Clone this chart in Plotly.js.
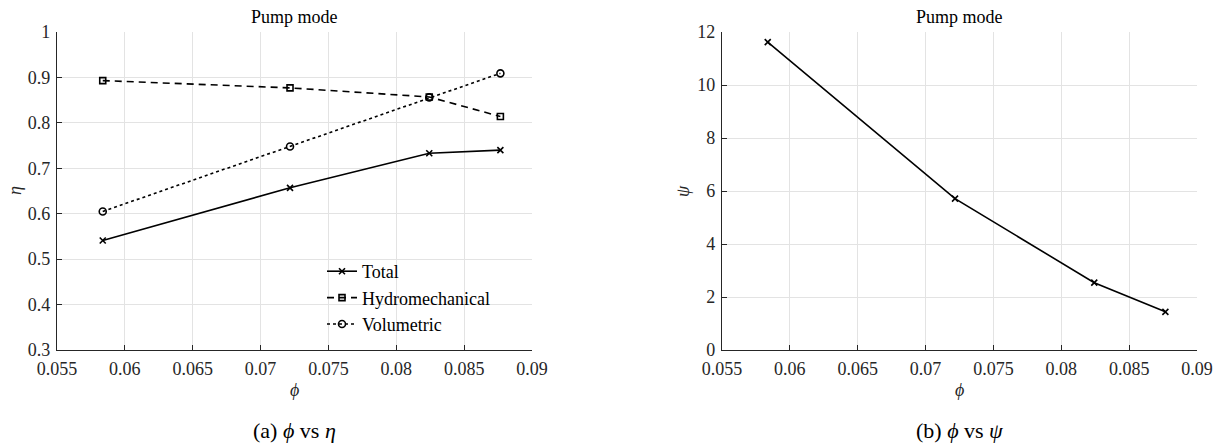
<!DOCTYPE html>
<html>
<head>
<meta charset="utf-8">
<script src="https://cdn.plot.ly/plotly-3.0.1.min.js"></script>
<style>html,body{margin:0;padding:0;background:#fff;}#chart{width:1223px;height:446px;}</style>
</head>
<body>
<div id="chart"></div>
<script>
// ---- data ----
const phi = [0.05837, 0.07217, 0.08243, 0.08767];
const etaTotal = [0.541, 0.657, 0.733, 0.740];
const etaHydro = [0.893, 0.877, 0.857, 0.814];
const etaVol = [0.605, 0.748, 0.856, 0.909];
const psi = [11.62, 5.71, 2.54, 1.44];
const xTicks = [0.055, 0.06, 0.065, 0.07, 0.075, 0.08, 0.085, 0.09];
const xTickText = ['0.055', '0.06', '0.065', '0.07', '0.075', '0.08', '0.085', '0.09'];
const etaTicks = [0.3, 0.4, 0.5, 0.6, 0.7, 0.8, 0.9, 1];
const etaTickText = ['0.3', '0.4', '0.5', '0.6', '0.7', '0.8', '0.9', '1'];
const psiTicks = [0, 2, 4, 6, 8, 10, 12];
const psiTickText = ['0', '2', '4', '6', '8', '10', '12'];
const seriesNames = ['Total', 'Hydromechanical', 'Volumetric'];
const plotTitle = 'Pump mode';
const captions = ['(a) <i>ϕ</i> vs <i>η</i>', '(b) <i>ϕ</i> vs <i>ψ</i>'];

const FONT = '"Liberation Serif", "DejaVu Serif", serif';
const AX = '#262626';

const traces = [
  {x: phi, y: etaTotal, name: seriesNames[0], mode: 'lines+markers', xaxis: 'x', yaxis: 'y',
   line: {color: '#000', width: 1.6}, marker: {symbol: 'x-thin-open', size: 6, line: {color: '#000', width: 1.6}}},
  {x: phi, y: etaHydro, name: seriesNames[1], mode: 'lines+markers', xaxis: 'x', yaxis: 'y',
   line: {color: '#000', width: 1.6, dash: '7px,5px'}, marker: {symbol: 'square-open', size: 6, color: '#000', line: {color: '#000', width: 1.6}}},
  {x: phi, y: etaVol, name: seriesNames[2], mode: 'lines+markers', xaxis: 'x', yaxis: 'y',
   line: {color: '#000', width: 1.6, dash: 'dot'}, marker: {symbol: 'circle-open', size: 7, color: '#000', line: {color: '#000', width: 1.6}}},
  {x: phi, y: psi, name: 'psi', mode: 'lines+markers', xaxis: 'x2', yaxis: 'y2', showlegend: false,
   line: {color: '#000', width: 1.6}, marker: {symbol: 'x-thin-open', size: 6, line: {color: '#000', width: 1.6}}}
];

const xBase = {
  range: [0.055, 0.09], tickvals: xTicks, ticktext: xTickText,
  showgrid: true, gridcolor: '#e3e3e3', gridwidth: 1, zeroline: false,
  showline: true, linecolor: AX, linewidth: 1.2, mirror: false,
  ticks: 'inside', ticklen: 5, tickcolor: AX, tickwidth: 1, ticklabelstandoff: 2,
  tickfont: {family: FONT, size: 18, color: '#262626'}, fixedrange: true
};
const yBase = {
  showgrid: true, gridcolor: '#e3e3e3', gridwidth: 1, zeroline: false,
  showline: true, linecolor: AX, linewidth: 1.2, mirror: false,
  ticks: 'inside', ticklen: 5, tickcolor: AX, tickwidth: 1, ticklabelstandoff: 2,
  tickfont: {family: FONT, size: 18, color: '#262626'}, fixedrange: true
};

const d1 = [57/1223, 532/1223];
const d2 = [722/1223, 1197/1223];
const yd = [1 - 350/446, 1 - 32/446];

function ann(text, px, py, size, color, angle) {
  return {text: text, x: px/1223, y: 1 - py/446, xref: 'paper', yref: 'paper', xanchor: 'center', yanchor: 'middle',
          showarrow: false, textangle: angle || 0, font: {family: FONT, size: size, color: color}};
}
const c1 = (57 + 532) / 2, c2 = (722 + 1197) / 2;

const layout = {
  width: 1223, height: 446,
  margin: {l: 0, r: 0, t: 0, b: 0},
  paper_bgcolor: '#fff', plot_bgcolor: '#fff',
  font: {family: FONT, color: '#262626'},
  xaxis: Object.assign({}, xBase, {domain: d1, anchor: 'y'}),
  yaxis: Object.assign({}, yBase, {domain: yd, anchor: 'x', range: [0.3, 1], tickvals: etaTicks, ticktext: etaTickText}),
  xaxis2: Object.assign({}, xBase, {domain: d2, anchor: 'y2'}),
  yaxis2: Object.assign({}, yBase, {domain: yd, anchor: 'x2', range: [0, 12], tickvals: psiTicks, ticktext: psiTickText}),
  showlegend: true,
  legend: {x: 322/1223, y: 1 - 253/446, xanchor: 'left', yanchor: 'top', bgcolor: 'rgba(255,255,255,0)',
           borderwidth: 0, font: {family: FONT, size: 18, color: '#000'}, tracegroupgap: 0, itemwidth: 30},
  annotations: [
    ann(plotTitle, c1, 17, 18, '#000'),
    ann(plotTitle, c2, 17, 18, '#000'),
    ann('<i>ϕ</i>', c1, 390, 18, '#262626'),
    ann('<i>ϕ</i>', c2, 390, 18, '#262626'),
    ann('<i>η</i>', 15, 191, 18, '#262626', -90),
    ann('<i>ψ</i>', 683, 191, 18, '#262626', -90),
    ann(captions[0], c1, 430, 22, '#000'),
    ann(captions[1], c2, 430, 22, '#000')
  ]
};

Plotly.newPlot('chart', traces, layout, {displayModeBar: false, staticPlot: true});
</script>
</body>
</html>
